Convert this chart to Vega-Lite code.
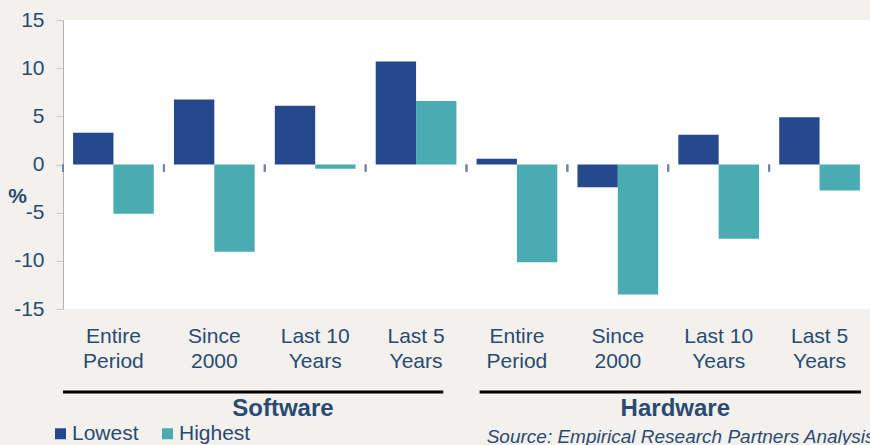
{
  "$schema": "https://vega.github.io/schema/vega-lite/v6.json",
  "autosize": {"type": "none"},
  "padding": {"left": 63, "top": 20, "right": 0, "bottom": 136},
  "width": 807,
  "height": 289,
  "background": "#f2f1ee",
  "config": {
    "font": "Liberation Sans",
    "view": {"fill": "white", "stroke": null}
  },
  "data": {
    "values": [
      {"cat": "S|Entire|Period", "series": "Lowest", "value": 3.3},
      {"cat": "S|Entire|Period", "series": "Highest", "value": -5.1},
      {"cat": "S|Since|2000", "series": "Lowest", "value": 6.75},
      {"cat": "S|Since|2000", "series": "Highest", "value": -9.05},
      {"cat": "S|Last 10|Years", "series": "Lowest", "value": 6.1},
      {"cat": "S|Last 10|Years", "series": "Highest", "value": -0.45},
      {"cat": "S|Last 5|Years", "series": "Lowest", "value": 10.7},
      {"cat": "S|Last 5|Years", "series": "Highest", "value": 6.6},
      {"cat": "H|Entire|Period", "series": "Lowest", "value": 0.6},
      {"cat": "H|Entire|Period", "series": "Highest", "value": -10.15},
      {"cat": "H|Since|2000", "series": "Lowest", "value": -2.35},
      {"cat": "H|Since|2000", "series": "Highest", "value": -13.5},
      {"cat": "H|Last 10|Years", "series": "Lowest", "value": 3.1},
      {"cat": "H|Last 10|Years", "series": "Highest", "value": -7.7},
      {"cat": "H|Last 5|Years", "series": "Lowest", "value": 4.9},
      {"cat": "H|Last 5|Years", "series": "Highest", "value": -2.7}
    ]
  },
  "encoding": {
    "x": {
      "field": "cat",
      "type": "nominal",
      "sort": null,
      "scale": {"paddingInner": 0, "paddingOuter": 0},
      "axis": {
        "title": null,
        "domain": false,
        "ticks": false,
        "labelAngle": 0,
        "labelExpr": "slice(split(datum.value, '|'), 1)",
        "labelFontSize": 21,
        "labelLineHeight": 25,
        "labelColor": "#2b4a6f",
        "labelPadding": 16,
        "labelFont": "Liberation Sans"
      }
    }
  },
  "layer": [
    {
      "mark": {"type": "bar"},
      "encoding": {
        "xOffset": {
          "field": "series",
          "type": "nominal",
          "sort": ["Lowest", "Highest"],
          "scale": {"paddingOuter": 0.25, "paddingInner": 0}
        },
        "y": {
          "field": "value",
          "type": "quantitative",
          "scale": {"domain": [-15, 15], "nice": false},
          "axis": {
            "values": [-15, -10, -5, 0, 5, 10, 15],
            "labelExpr": "'' + datum.value",
            "grid": false,
            "domainColor": "#b4b4b4",
            "domainWidth": 1,
            "tickColor": "#c8c8c8",
            "tickSize": 7,
            "labelFontSize": 21,
            "labelColor": "#2b4a6f",
            "labelPadding": 12,
            "title": "%",
            "titleAngle": 0,
            "titleFontSize": 21,
            "titleFontWeight": "bold",
            "titleColor": "#2b4a6f",
            "titleX": -46,
            "titleY": 176,
            "titleAlign": "center",
            "titleBaseline": "middle"
          }
        },
        "color": {
          "field": "series",
          "type": "nominal",
          "sort": ["Lowest", "Highest"],
          "scale": {"domain": ["Lowest", "Highest"], "range": ["#26498e", "#4aabb0"]},
          "legend": {
            "orient": "none",
            "legendX": -13,
            "legendY": 403,
            "direction": "horizontal",
            "title": null,
            "symbolType": "square",
            "symbolSize": 121,
            "symbolStrokeWidth": 0,
            "labelFontSize": 21,
            "labelColor": "#2b4a6f",
            "labelOffset": 1,
            "columnPadding": 18,
            "padding": 0
          }
        }
      }
    },
    {
      "mark": {"type": "rule", "color": "#2b4a72", "strokeWidth": 3},
      "encoding": {"y": {"datum": 0}}
    },
    {
      "mark": {"type": "rule", "color": "#7083a0", "strokeWidth": 2},
      "encoding": {
        "x": {"field": "cat", "type": "nominal", "sort": null, "bandPosition": 0},
        "y": {"datum": 0},
        "y2": {"datum": -0.75}
      }
    },
    {
      "data": {"values": [{"group": "Software"}]},
      "mark": {"type": "rule", "color": "black", "strokeWidth": 3},
      "encoding": {
        "x": {"datum": "S|Entire|Period", "bandPosition": 0},
        "x2": {"datum": "S|Last 5|Years", "bandPosition": 0.77},
        "y": {"datum": -23.62}
      }
    },
    {
      "data": {"values": [{"group": "Hardware"}]},
      "mark": {"type": "rule", "color": "black", "strokeWidth": 3},
      "encoding": {
        "x": {"datum": "H|Entire|Period", "bandPosition": 0.13},
        "x2": {"datum": "H|Last 5|Years", "bandPosition": 0.91},
        "y": {"datum": -23.62}
      }
    },
    {
      "data": {"values": [{"group": "Software"}]},
      "mark": {"type": "text", "fontSize": 24, "fontWeight": "bold", "color": "#2b4a6f", "align": "center", "baseline": "middle"},
      "encoding": {
        "x": {"datum": "S|Last 10|Years", "bandPosition": 0.18},
        "y": {"datum": -25.38},
        "text": {"field": "group"}
      }
    },
    {
      "data": {"values": [{"group": "Hardware"}]},
      "mark": {"type": "text", "fontSize": 24, "fontWeight": "bold", "color": "#2b4a6f", "align": "center", "baseline": "middle"},
      "encoding": {
        "x": {"datum": "H|Last 10|Years", "bandPosition": 0.07},
        "y": {"datum": -25.38},
        "text": {"field": "group"}
      }
    },
    {
      "data": {"values": [{"source": "Source: Empirical Research Partners Analysis"}]},
      "mark": {"type": "text", "fontSize": 19, "fontStyle": "italic", "color": "#2b4a6f", "align": "left", "baseline": "middle"},
      "encoding": {
        "x": {"datum": "H|Entire|Period", "bandPosition": 0.2},
        "y": {"datum": -28.29},
        "text": {"field": "source"}
      }
    }
  ]
}
